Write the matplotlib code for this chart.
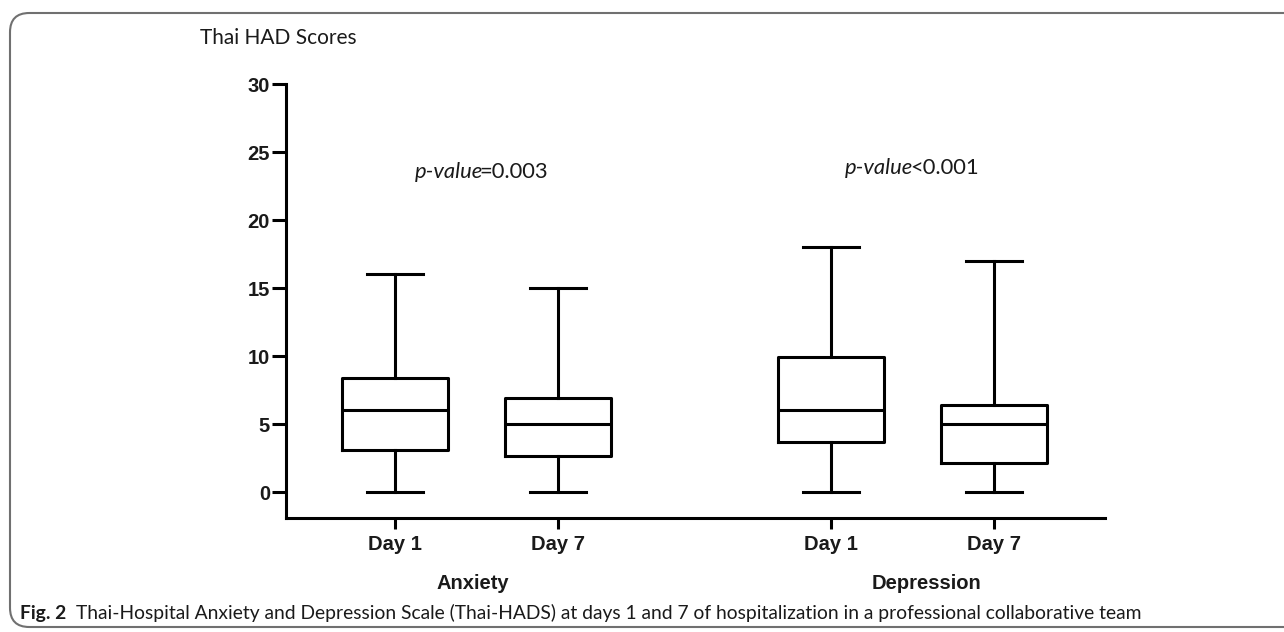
import matplotlib
matplotlib.use("Agg")
import matplotlib.pyplot as plt
from matplotlib.patches import FancyBboxPatch

# ---- data ----
categories = ["Day 1", "Day 7", "Day 1", "Day 7"]
groups = ["Anxiety", "Depression"]
positions = [1.0, 2.0, 3.675, 4.675]
whislo = [0, 0, 0, 0]
q1 = [3.1, 2.65, 3.65, 2.1]
med = [6, 5, 6, 5]
q3 = [8.4, 6.9, 9.9, 6.4]
whishi = [16, 15, 18, 17]
yticks = [0, 5, 10, 15, 20, 25, 30]
pvals = ["=0.003", "<0.001"]
ylabel_text = "Thai HAD Scores"
caption_bold = "Fig. 2"
caption_rest = "Thai-Hospital Anxiety and Depression Scale (Thai-HADS) at days 1 and 7 of hospitalization in a professional collaborative team"

W, H = 1284, 632
fig = plt.figure(figsize=(W / 100, H / 100), dpi=100)
fig.patch.set_facecolor("white")

# border
border = FancyBboxPatch((10 / W, 5 / H), 1.2, (619 - 5) / H,
                        boxstyle="round,pad=0,rounding_size=0.015",
                        transform=fig.transFigure, fill=False,
                        edgecolor="#707070", linewidth=1.5, clip_on=False,
                        mutation_aspect=W / H)
fig.patches.append(border)

ax = fig.add_axes([286 / W, 1 - 518 / H, (1105 - 286) / W, (518 - 84) / H])

stats = []
for i in range(len(categories)):
    stats.append(dict(med=med[i], q1=q1[i], q3=q3[i], whislo=whislo[i],
                      whishi=whishi[i], fliers=[], label=categories[i]))

lw = 2.2
ax.bxp(stats, positions=positions, widths=0.65, capwidths=0.34,
       showfliers=False,
       boxprops=dict(linewidth=lw, color="black"),
       medianprops=dict(linewidth=lw, color="black"),
       whiskerprops=dict(linewidth=lw, color="black"),
       capprops=dict(linewidth=lw, color="black"))

ax.set_ylim(-1.91, 30)
ax.set_xlim(0.331, 5.356)
ax.spines["top"].set_visible(False)
ax.spines["right"].set_visible(False)
for s in ["left", "bottom"]:
    ax.spines[s].set_linewidth(lw)
    ax.spines[s].set_capstyle("projecting")

tickfont = dict(family="Liberation Sans", weight="bold", size=14.5, color="#1a1a1a")
ax.set_yticks(yticks)
ax.set_yticklabels([str(t) for t in yticks], fontdict=tickfont)
ax.set_xticks(positions)
ax.set_xticklabels(categories, fontdict=tickfont)
ax.tick_params(axis="y", direction="out", length=10, width=lw, pad=1.5)
ax.tick_params(axis="x", direction="out", length=8, width=lw, pad=4)

# group labels
ax.text(1.48, -0.15, groups[0], transform=ax.get_xaxis_transform(),
        ha="center", va="center", **tickfont)
ax.text(4.26, -0.15, groups[1], transform=ax.get_xaxis_transform(),
        ha="center", va="center", **tickfont)

# p-values
for x, y, pv in [(1.54, 23.5, pvals[0]), (4.18, 23.8, pvals[1])]:
    t1 = ax.text(x, y, "p-value", style="italic", family="Lato", size=15.8,
                 ha="right", va="center", color="#1a1a1a")
    ax.annotate(pv, xy=(1, 0.5), xycoords=t1, xytext=(-2.5, 0),
                textcoords="offset points", family="Lato", size=15.8,
                ha="left", va="center", color="#1a1a1a")

# title
fig.text(200 / W, 1 - 38 / H, ylabel_text, family="Lato", size=15,
         ha="left", va="center", color="#1a1a1a")

# caption
fig.canvas.draw()
r = fig.canvas.get_renderer()
cb = fig.text(20 / W, 1 - 613 / H, caption_bold, family="Lato", weight="bold",
              size=13.9, ha="left", va="center", color="#1a1a1a")
fig.canvas.draw()
bb = cb.get_window_extent(r)
fig.text((bb.x1 + 10) / W, 1 - 613 / H, caption_rest, family="Lato",
         size=13.9, ha="left", va="center", color="#1a1a1a")

fig.savefig("out.png", dpi=100)
